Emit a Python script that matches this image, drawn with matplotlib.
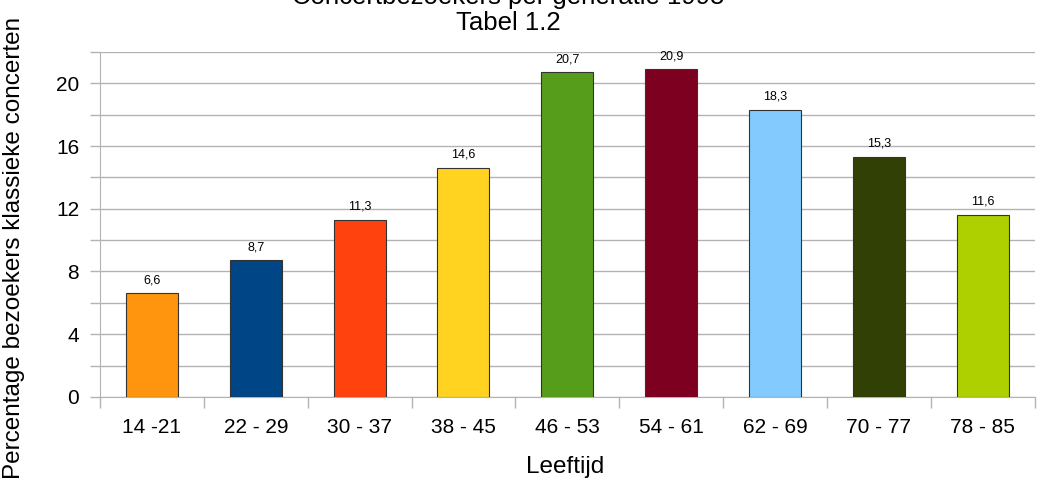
import numpy as np
import matplotlib.pyplot as plt
from matplotlib.ticker import MultipleLocator

plt.rcParams['font.family'] = ['Liberation Sans', 'DejaVu Sans']

leeftijd = ['14 -21', '22 - 29', '30 - 37', '38 - 45', '46 - 53', '54 - 61', '62 - 69', '70 - 77', '78 - 85']
percentage = [6.6, 8.7, 11.3, 14.6, 20.7, 20.9, 18.3, 15.3, 11.6]
kleuren = ['#FF950E', '#004586', '#FF420E', '#FFD320', '#579D1C', '#7E0021', '#83CAFF', '#314004', '#AECF00']

fig = plt.figure(figsize=(10.45, 4.84), dpi=100)
ax = fig.add_axes([0.0957, 0.180, 0.8943, 0.7126])

x = np.arange(len(leeftijd))
bars = ax.bar(x, percentage, width=0.5, color=kleuren, edgecolor='#333333', linewidth=0.8, zorder=3)
for xi, v in zip(x, percentage):
    ax.text(xi, v + 0.45, str(v).replace('.', ','), ha='center', va='bottom', fontsize=9)

ax.set_xlim(-0.5, len(leeftijd) - 0.5)
ax.set_ylim(0, 22)
ax.yaxis.set_major_locator(MultipleLocator(4))
ax.yaxis.set_minor_locator(MultipleLocator(2))
ax.grid(axis='y', which='both', color='#b3b3b3', linewidth=1, zorder=0)

ax.set_xticks(x)
ax.set_xticklabels(leeftijd, fontsize=15)
ax.set_xticks(np.arange(-0.5, len(leeftijd), 1), minor=True)
ax.tick_params(axis='x', which='major', length=0, pad=15)
ax.tick_params(axis='x', which='minor', length=8, color='#b3b3b3', width=1)
ax.tick_params(axis='y', which='both', length=7, color='#b3b3b3', width=1, labelsize=15, pad=8)

for s in ['top', 'right']:
    ax.spines[s].set_visible(False)
ax.spines['left'].set_color('#b3b3b3')
ax.spines['bottom'].set_color('#b3b3b3')

ax.set_xlabel('Leeftijd', fontsize=17.5, va='center')
ax.xaxis.set_label_coords(0.4976, -0.203)
ax.set_ylabel('Percentage bezoekers klassieke concerten', fontsize=17.5, va='center')
ax.yaxis.set_label_coords(-0.092, 0.432)

fig.text(0.486, 1.03, 'Concertbezoekers per generatie 1995\nTabel 1.2', ha='center', va='top',
         fontsize=18.5, linespacing=1.1)

fig.savefig('out.png', dpi=100)
